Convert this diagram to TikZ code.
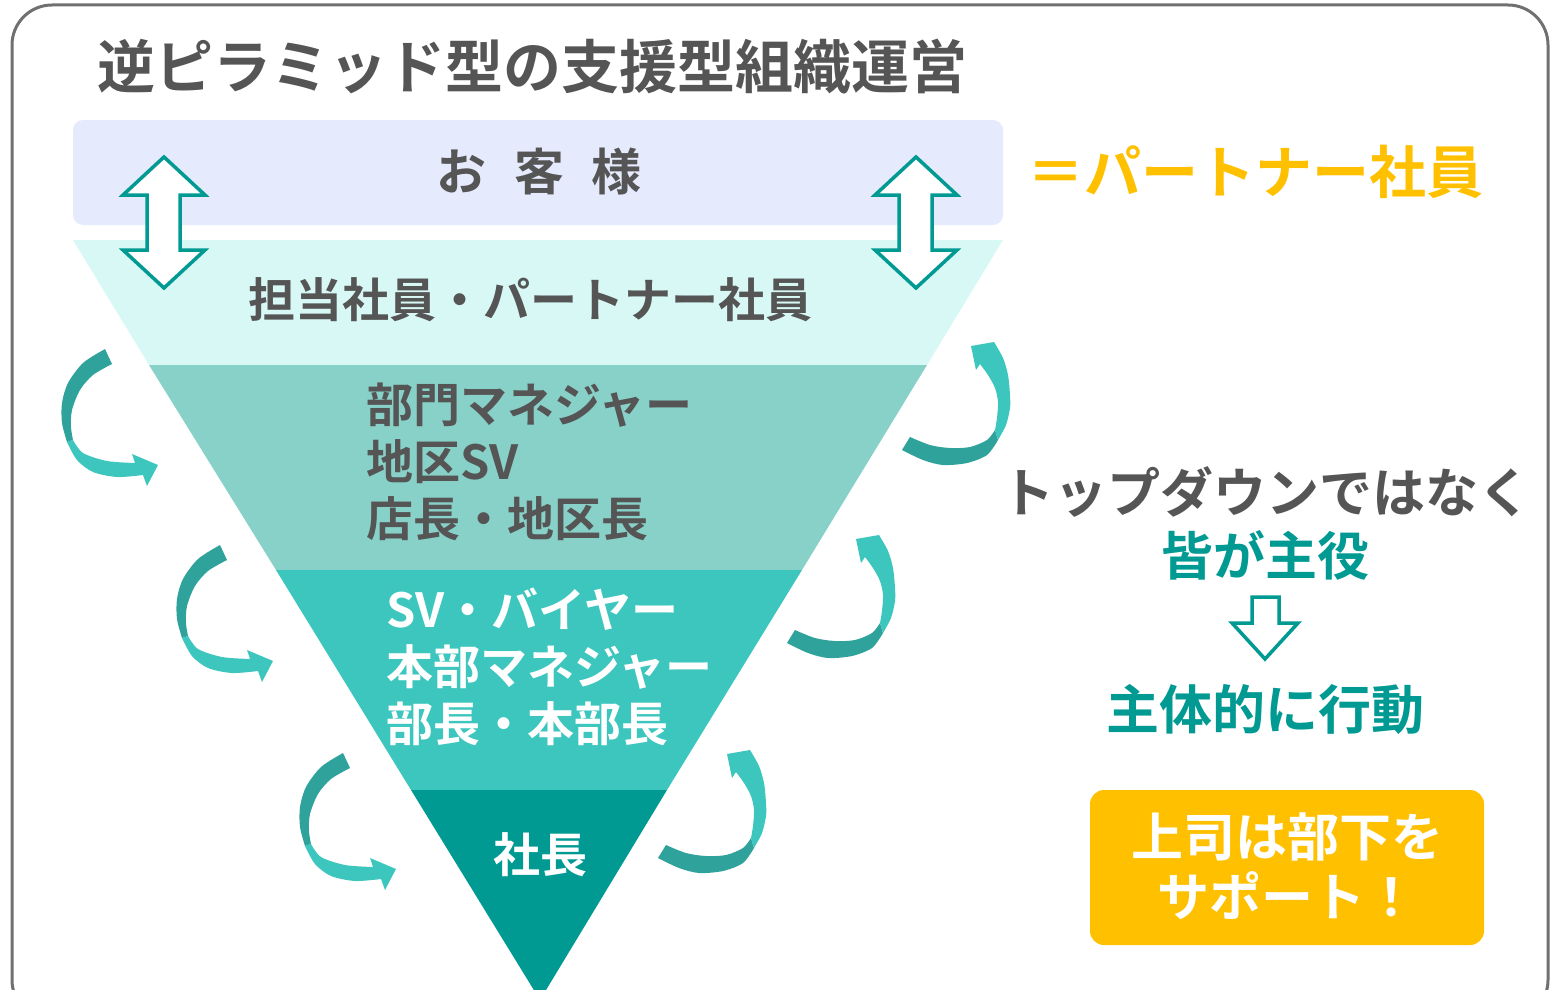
\documentclass[tikz,border=0pt]{standalone}
\usepackage{fontspec}
\setmainfont{Noto Sans CJK JP}[BoldFont={Noto Sans CJK JP Bold}]
\usepackage{tikz}
\usetikzlibrary{positioning}
\definecolor{txtgray}{HTML}{555555}
\definecolor{layerA}{HTML}{D8F8F5}
\definecolor{layerB}{HTML}{88D1C9}
\definecolor{layerC}{HTML}{3CC6BE}
\definecolor{layerD}{HTML}{009A93}
\definecolor{ribbondark}{HTML}{2FA39B}
\definecolor{gold}{HTML}{FFC000}
\definecolor{lavender}{HTML}{E6EAFD}
\definecolor{framegray}{HTML}{707070}
\tikzstyle{heading} = [font=\bfseries\fontsize{58}{60}\selectfont, text=txtgray, inner sep=0pt]
\tikzstyle{lay} = [font=\bfseries\fontsize{47}{57}\selectfont, inner sep=0pt, align=left]
\tikzstyle{side} = [font=\bfseries\fontsize{53}{60}\selectfont, inner sep=0pt, align=center]
\tikzstyle{hollow} = [draw=layerD, fill=white, line width=3.5pt, line join=miter]

\tikzset{
  loopleft/.pic={
    \fill[ribbondark] (0,0) -- plot[smooth] coordinates {(0,0) (-22,14) (-37,34) (-43,54) (-43,74) (-38,93)}
      -- (-32,91) -- plot[smooth] coordinates {(-32,91) (-34,78) (-33,61) (-25,41) (-12,26) (7,15)} -- cycle;
    \fill[layerC] (-38,93) -- plot[smooth] coordinates {(-38,93) (-28,111) (-12,123) (12,128) (38,126)}
      -- (42,137) -- (53,116) -- (27,105)
      -- plot[smooth] coordinates {(30,114) (2,112) (-22,104) (-32,91)} -- cycle;
  },
  loopright/.pic={
    \fill[ribbondark] (0,0) -- plot[smooth] coordinates {(0,0) (21,10) (41,15) (65,13) (85,5) (96,-10)}
      -- (93,-20) -- plot[smooth] coordinates {(93,-20) (85,-10) (68,-3) (48,-2) (28,-5) (8,-13)} -- cycle;
    \fill[layerC] (96,-10) -- plot[smooth] coordinates {(96,-10) (104,-25) (108,-42) (108,-55) (106,-75) (101,-92) (92,-108)}
      -- (69,-104) -- (74,-80)
      -- plot[smooth] coordinates {(78,-86) (86,-75) (93,-62) (96,-48) (95,-32) (93,-20)} -- cycle;
  },
  updown/.pic={
    \draw[hollow] (0,0) -- (41,38) -- (16,38) -- (16,93) -- (41,93) -- (0,131)
      -- (-41,93) -- (-17,93) -- (-17,38) -- (-41,38) -- cycle;
  }
}

\begin{document}
\begin{tikzpicture}[x=1pt, y=-1pt]
\useasboundingbox (0,0) rectangle (1550,990);

% frame
\draw[framegray, line width=3pt, rounded corners=40pt] (12,5) rectangle (1548,1020);

\node[heading, anchor=west] (title) at (97,67) {逆ピラミッド型の支援型組織運営};

% customers
\fill[lavender, rounded corners=10pt] (73,120) rectangle (1003,225);
\node[heading, font=\bfseries\fontsize{50}{60}\selectfont] (customer) at (539,172) {お\hspace{0.55em}客\hspace{0.55em}様};

% pyramid layers
\fill[layerA] (73,240) -- (1003,240) -- (927,365) -- (149,365) -- cycle;
\fill[layerB] (149,365) -- (927,365) -- (802,570) -- (276,570) -- cycle;
\fill[layerC] (276,570) -- (802,570) -- (667,790) -- (411,790) -- cycle;
\fill[layerD] (411,790) -- (667,790) -- (540,1000) -- cycle;

\node[lay, text=txtgray] (staff) at (530,300) {担当社員・パートナー社員};
\node[lay, text=txtgray, anchor=north west] (managers) at (366,383) {部門マネジャー\\地区SV\\店長・地区長};
\node[lay, text=white, anchor=north west] (buyers) at (386,588) {SV・バイヤー\\本部マネジャー\\部長・本部長};
\node[lay, text=white] (president) at (540,855) {社長};

% arrows
\pic at (164,157) {updown};
\pic at (916,157) {updown};

\pic at (105,349) {loopleft};
\pic at (220,545) {loopleft};
\pic at (343,753) {loopleft};
\pic at (902,450) {loopright};
\pic at (787,643) {loopright};
\pic at (658,858) {loopright};

% right side
\node[heading, font=\bfseries\fontsize{57}{60}\selectfont, text=gold, anchor=west] (partner) at (1027,172) {＝パートナー社員};
\node[side, text=txtgray] (topdown) at (1266,492) {トップダウンではなく};
\node[side, text=layerD, font=\bfseries\fontsize{52}{60}\selectfont] (everyone) at (1265,555) {皆が主役};
\draw[hollow] (1252,597) -- (1279,597) -- (1279,623) -- (1298,623) -- (1265,659)
  -- (1232,623) -- (1252,623) -- cycle;
\node[side, text=layerD] (act) at (1265,710) {主体的に行動};
\fill[gold, rounded corners=14pt] (1090,790) rectangle (1484,945);
\node[side, text=white, font=\bfseries\fontsize{52}{60}\selectfont] (support) at (1287,866) {上司は部下を\\サポート！};
\end{tikzpicture}
\end{document}
